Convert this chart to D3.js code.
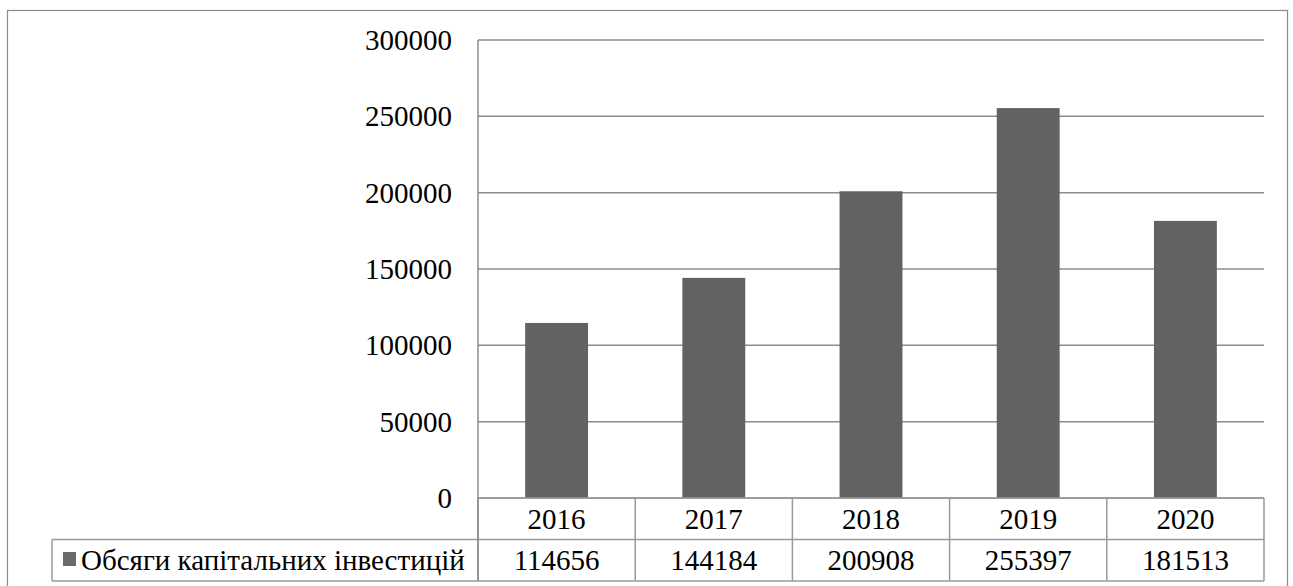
<!DOCTYPE html>
<html>
<head>
<meta charset="utf-8">
<script src="https://cdn.jsdelivr.net/npm/d3@7"></script>
</head>
<body style="margin:0">
<script>
// Capital investment volumes by year, shown as columns with a data table underneath
const years = ["2016", "2017", "2018", "2019", "2020"];
const investments = [114656, 144184, 200908, 255397, 181513];
const seriesName = "Обсяги капітальних інвестицій";
const yTicks = [0, 50000, 100000, 150000, 200000, 250000, 300000];

const W = 1293, H = 586;
const plot = { left: 478, right: 1264, top: 40, bottom: 498 };
const rowH = 41.5;
const legendLeft = 52;
const barColor = "#626262";
const gridColor = "#8c8c8c";
const tableColor = "#9a9a9a";
const fontSize = "29px";

const svg = d3.select("body").append("svg")
  .attr("width", W).attr("height", H)
  .style("display", "block");

// Serif face for every label
function serifText(sel) {
  return sel
    .style("font-family", () => '"Liberation Serif"')
    .style("font-size", fontSize)
    .attr("fill", "#000");
}

// Chart frame
svg.append("rect")
  .attr("x", 7.5).attr("y", 10.5)
  .attr("width", 1280).attr("height", 590)
  .attr("fill", "none").attr("stroke", "#8a8a8a").attr("stroke-width", 1.2);

const x = d3.scaleBand()
  .domain(years)
  .range([plot.left, plot.right])
  .paddingInner(0.6).paddingOuter(0.3);

const xCell = d3.scaleBand()
  .domain(years)
  .range([plot.left, plot.right]);

const y = d3.scaleLinear()
  .domain([0, 300000])
  .range([plot.bottom, plot.top]);

// Horizontal gridlines
svg.append("g")
  .selectAll("line")
  .data(yTicks)
  .join("line")
  .attr("x1", plot.left).attr("x2", plot.right)
  .attr("y1", d => y(d)).attr("y2", d => y(d))
  .attr("stroke", gridColor).attr("stroke-width", 1.5);

// Value axis labels, placed from the scale
serifText(svg.append("g")
  .selectAll("text")
  .data(yTicks)
  .join("text")
  .attr("x", plot.left - 26)
  .attr("y", d => y(d))
  .attr("dy", "0.34em")
  .attr("text-anchor", "end"))
  .text(d => d3.format("d")(d));

// Columns
svg.append("g")
  .selectAll("rect")
  .data(years.map((yr, i) => ({ yr, v: investments[i] })))
  .join("rect")
  .attr("x", d => x(d.yr))
  .attr("width", x.bandwidth())
  .attr("y", d => y(d.v))
  .attr("height", d => y(0) - y(d.v))
  .attr("fill", barColor);

// Data table grid
const tTop = plot.bottom, tMid = plot.bottom + rowH, tBot = plot.bottom + 2 * rowH;
const tg = svg.append("g").attr("stroke", tableColor).attr("stroke-width", 1.5).attr("fill", "none");
tg.append("line").attr("x1", plot.left).attr("x2", plot.right).attr("y1", tTop).attr("y2", tTop);
tg.append("line").attr("x1", legendLeft).attr("x2", plot.right).attr("y1", tMid).attr("y2", tMid);
tg.append("line").attr("x1", legendLeft).attr("x2", plot.right).attr("y1", tBot).attr("y2", tBot);
tg.append("line").attr("x1", legendLeft).attr("x2", legendLeft).attr("y1", tMid).attr("y2", tBot);
tg.selectAll("line.col")
  .data(years.map(d => xCell(d)).concat([plot.right]))
  .join("line").attr("class", "col")
  .attr("x1", d => d).attr("x2", d => d)
  .attr("y1", tTop).attr("y2", tBot);

// Value axis line, continued through the table edge
svg.append("line")
  .attr("x1", plot.left).attr("x2", plot.left)
  .attr("y1", plot.top).attr("y2", tBot)
  .attr("stroke", gridColor).attr("stroke-width", 1.5);

// Year labels
serifText(svg.append("g")
  .selectAll("text")
  .data(years)
  .join("text")
  .attr("x", d => xCell(d) + xCell.bandwidth() / 2)
  .attr("y", (tTop + tMid) / 2)
  .attr("dy", "0.34em")
  .attr("text-anchor", "middle"))
  .text(d => d);

// Values row
serifText(svg.append("g")
  .selectAll("text")
  .data(years.map((yr, i) => ({ yr, v: investments[i] })))
  .join("text")
  .attr("x", d => xCell(d.yr) + xCell.bandwidth() / 2)
  .attr("y", (tMid + tBot) / 2)
  .attr("dy", "0.34em")
  .attr("text-anchor", "middle"))
  .text(d => d.v);

// Legend key and series name
svg.append("rect")
  .attr("x", 63).attr("y", 552)
  .attr("width", 13).attr("height", 14)
  .attr("fill", "#6a6a6a");
serifText(svg.append("text")
  .attr("x", 81)
  .attr("y", (tMid + tBot) / 2)
  .attr("dy", "0.34em"))
  .text(seriesName);
</script>
</body>
</html>
